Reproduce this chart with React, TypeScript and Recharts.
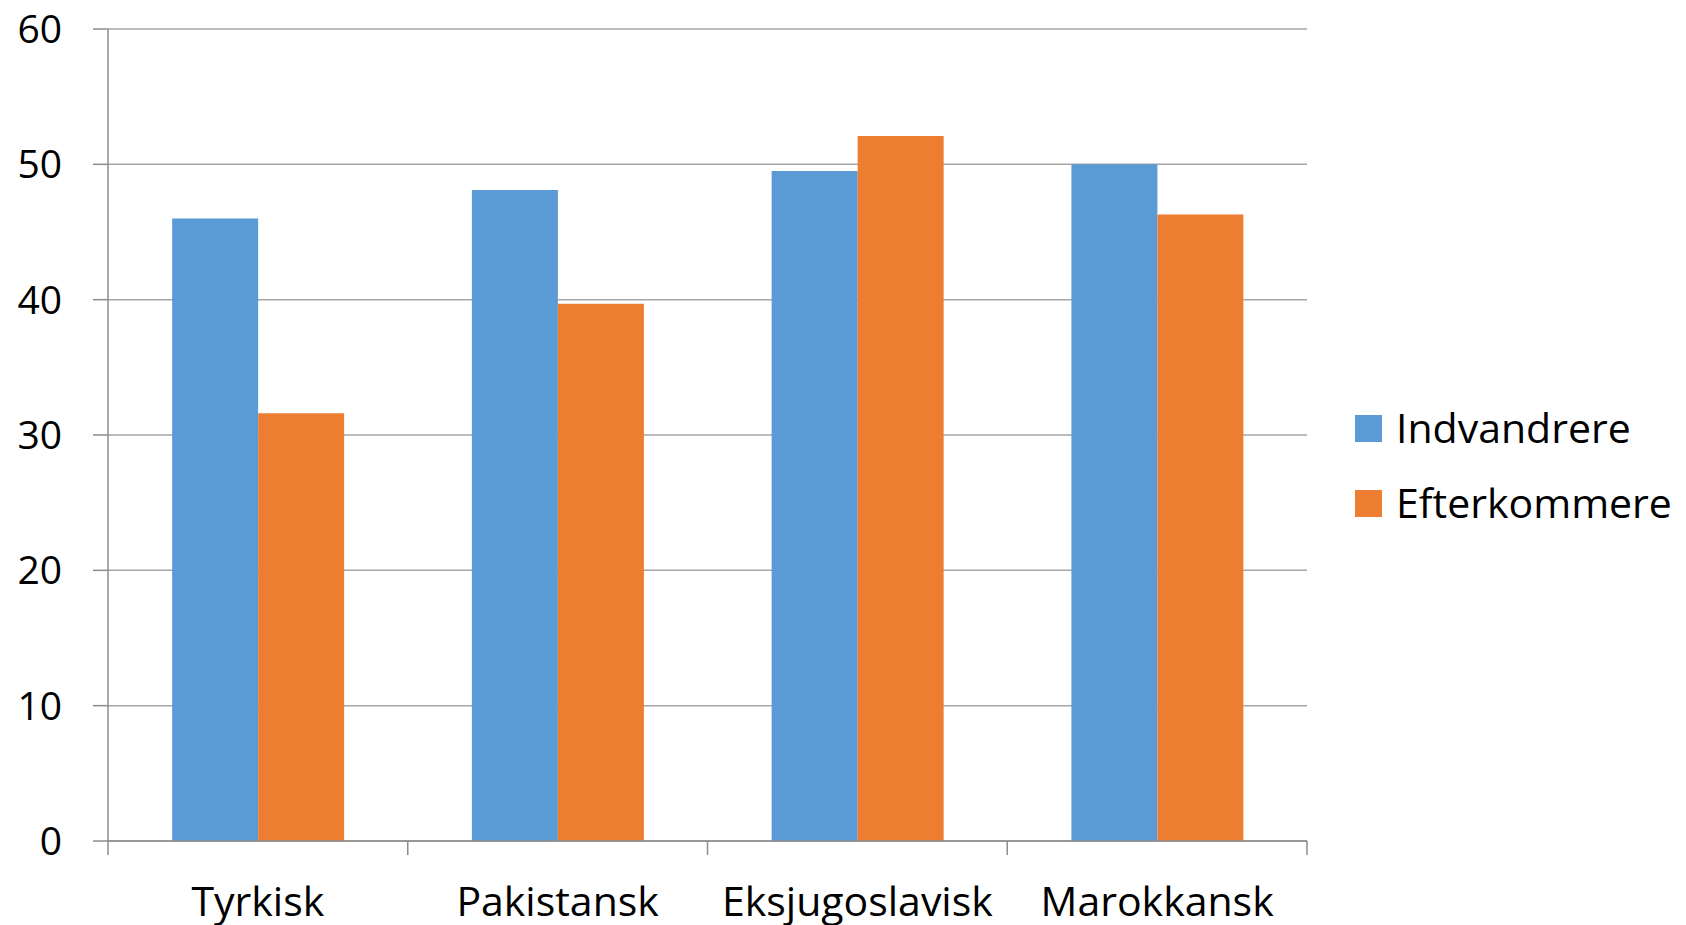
import React from "react";
import { BarChart, Bar, XAxis, YAxis, CartesianGrid, Legend } from "recharts";

const categories = ["Tyrkisk", "Pakistansk", "Eksjugoslavisk", "Marokkansk"];
const indvandrere = [46.0, 48.1, 49.5, 50.0];
const efterkommere = [31.6, 39.7, 52.1, 46.3];
const yTicks = [0, 10, 20, 30, 40, 50, 60];
const seriesNames = ["Indvandrere", "Efterkommere"];
const seriesColors = ["#5B9BD5", "#ED7D31"];

const data = categories.map((c, i) => ({
  name: c,
  Indvandrere: indvandrere[i],
  Efterkommere: efterkommere[i],
}));

const FONT = "'Open Sans', sans-serif";
const AXIS_COLOR = "#8C8C8C";
const GRID_COLOR = "#A6A6A6";

const CategoryTick = (props: any) => {
  const { x, y, payload, index, visibleTicksCount, width } = props;
  const half =
    payload && typeof payload.offset === "number" && payload.offset > 0
      ? payload.offset
      : width / (2 * (visibleTicksCount || categories.length));
  const isLast = index === (visibleTicksCount || categories.length) - 1;
  return (
    <g>
      <line x1={x - half} x2={x - half} y1={y} y2={y + 14} stroke={AXIS_COLOR} strokeWidth={1.5} />
      {isLast && (
        <line x1={x + half} x2={x + half} y1={y} y2={y + 14} stroke={AXIS_COLOR} strokeWidth={1.5} />
      )}
      <text x={x} y={y + 75} textAnchor="middle" fontFamily={FONT} fontSize={41} fill="#000">
        {payload.value}
      </text>
    </g>
  );
};

const renderLegend = () => (
  <svg width={346} height={160} style={{ display: "block" }}>
    {seriesNames.map((n, i) => (
      <g key={n}>
        <rect x={15} y={18 + 75 * i} width={27} height={27} fill={seriesColors[i]} />
        <text x={56} y={46 + 75 * i} fontFamily={FONT} fontSize={41} fill="#000">
          {n}
        </text>
      </g>
    ))}
  </svg>
);

export default function App() {
  return (
    <div style={{ position: "absolute", left: 0, top: 0, background: "#fff" }}>
      <BarChart
        width={1686}
        height={925}
        data={data}
        margin={{ top: 29, right: 379, bottom: 0, left: 0 }}
        barCategoryGap="21.4%"
        barGap={0}
      >
        <CartesianGrid vertical={false} stroke={GRID_COLOR} strokeWidth={1.5} />
        <XAxis
          dataKey="name"
          height={84}
          axisLine={{ stroke: AXIS_COLOR, strokeWidth: 1.5 }}
          tickLine={false}
          tickSize={0}
          tickMargin={0}
          interval={0}
          tick={<CategoryTick />}
        />
        <YAxis
          width={108}
          domain={[0, 60]}
          ticks={yTicks}
          interval={0}
          axisLine={{ stroke: AXIS_COLOR, strokeWidth: 1.5 }}
          tickLine={{ stroke: AXIS_COLOR, strokeWidth: 1.5 }}
          tickSize={15}
          tickMargin={31}
          tick={{ fontFamily: FONT, fontSize: 39, fill: "#000" }}
        />
        <Legend
          layout="horizontal"
          align="center"
          verticalAlign="middle"
          content={renderLegend}
          wrapperStyle={{ left: 1340, top: 397, width: 346, height: 160 }}
        />
        <Bar dataKey="Indvandrere" fill={seriesColors[0]} isAnimationActive={false} />
        <Bar dataKey="Efterkommere" fill={seriesColors[1]} isAnimationActive={false} />
      </BarChart>
    </div>
  );
}
